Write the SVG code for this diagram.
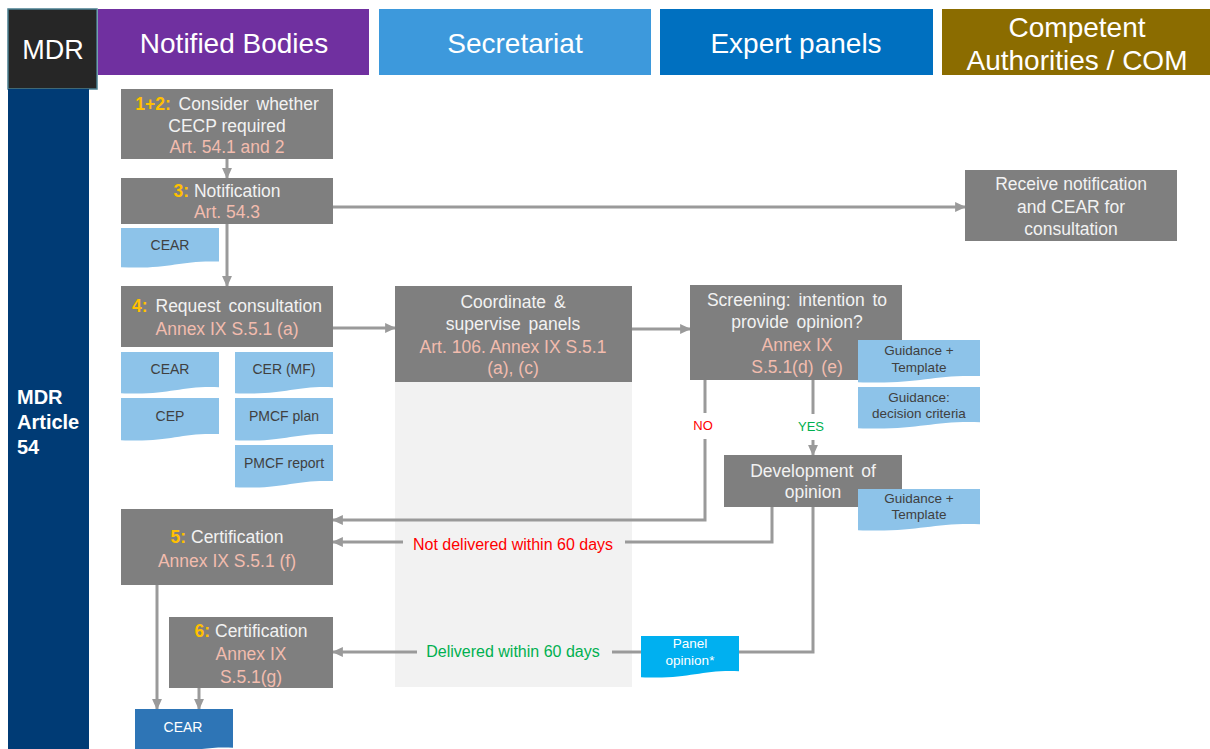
<svg xmlns="http://www.w3.org/2000/svg" xmlns:xlink="http://www.w3.org/1999/xlink" width="1210" height="749" viewBox="0 0 1210 749">
<style>
text{font-family:"Liberation Sans",Arial,sans-serif;}
.hd{font-size:27px;fill:#ffffff;text-anchor:middle;}
.nd{fill:#7f7f7f;}
.nt{font-size:17.5px;fill:#f2f2f2;text-anchor:middle;}
.o{fill:#ffc000;font-weight:bold;}
.p{fill:#f2bcae;}
.ws{word-spacing:3px;}
.dt{font-size:14px;fill:#404040;text-anchor:middle;}
.ln{fill:none;stroke:#9a9a9a;stroke-width:3;}
.ar{marker-end:url(#ah);}
.lbl{font-size:16px;text-anchor:middle;}
</style>
<defs>
<marker id="ah" markerUnits="userSpaceOnUse" markerWidth="11" markerHeight="11" viewBox="0 0 10 10" refX="9" refY="5" orient="auto">
<path d="M0,0.5 L10,5 L0,9.5 Z" fill="#9a9a9a"/>
</marker>
<symbol id="doc" viewBox="0 0 100 100" preserveAspectRatio="none">
<path d="M0,0 H100 V84 C60,80 50,104 0,98 Z"/>
</symbol>
</defs>

<!-- headers -->
<g id="hdr-mdr"><rect x="8" y="9" width="89" height="80" fill="#262626" stroke="#4a7f90" stroke-width="1.5"/><text class="hd" x="53" y="59">MDR</text></g>
<g id="hdr-nb"><rect x="98" y="9" width="271" height="66" fill="#7030a0"/><text class="hd" x="234" y="53" style="font-size:28px">Notified Bodies</text></g>
<g id="hdr-sec"><rect x="379" y="9" width="272" height="66" fill="#3d99dc"/><text class="hd" x="515" y="53" style="font-size:28px">Secretariat</text></g>
<g id="hdr-exp"><rect x="660" y="9" width="273" height="66" fill="#0070c0"/><text class="hd" x="796" y="53" style="font-size:28px">Expert panels</text></g>
<g id="hdr-ca"><rect x="942" y="9" width="268" height="66" fill="#8b6c00"/><text class="hd" x="1077" y="37" style="font-size:28px">Competent</text><text class="hd" x="1077" y="70" style="font-size:28px">Authorities / COM</text></g>

<g id="side"><rect x="8" y="89" width="81" height="660" fill="#003b75"/>
<text x="17" y="404" style="font-size:20px;font-weight:bold;fill:#fff">MDR</text>
<text x="17" y="429" style="font-size:20px;font-weight:bold;fill:#fff">Article</text>
<text x="17" y="454" style="font-size:20px;font-weight:bold;fill:#fff">54</text></g>

<rect id="sec-panel" x="395" y="382" width="237" height="305" fill="#f2f2f2"/>

<!-- connectors -->
<g id="connectors">
<path class="ln ar" d="M227,159 V178"/>
<path class="ln ar" d="M227,224 V286"/>
<path class="ln ar" d="M333,207 H965"/>
<path class="ln ar" d="M333,328 H395"/>
<path class="ln ar" d="M632,329 H690"/>
<path class="ln ar" d="M705,380 V520 H333"/>
<path class="ln ar" d="M813,380 V455"/>
<path class="ln" d="M772,507 V542 H625"/>
<path class="ln ar" d="M403,542 H333"/>
<path class="ln" d="M813,507 V652 H739"/>
<path class="ln" d="M641,652 H612"/>
<path class="ln ar" d="M417,652 H333"/>
<path class="ln ar" d="M157,585 V709"/>
<path class="ln ar" d="M199,688 V709"/>
<g id="lbl-no"><rect x="685" y="413" width="36" height="26" fill="#ffffff"/><text x="703" y="430" style="font-size:13px;fill:#ff0000;text-anchor:middle">NO</text></g>
<g id="lbl-yes"><rect x="790" y="414" width="44" height="26" fill="#ffffff"/><text x="811" y="431" style="font-size:13px;fill:#00b050;text-anchor:middle">YES</text></g>
<text class="lbl" x="513" y="550" fill="#ff0000">Not delivered within 60 days</text>
<text class="lbl" x="513" y="657" fill="#00b050">Delivered within 60 days</text>
</g>

<!-- nodes -->
<g id="n12"><rect class="nd" x="121" y="89" width="212" height="70"/>
<text class="nt ws" x="227" y="110"><tspan class="o">1+2:</tspan> Consider whether</text>
<text class="nt" x="227" y="132">CECP required</text>
<text class="nt p" x="227" y="153">Art. 54.1 and 2</text></g>

<g id="n3"><rect class="nd" x="121" y="178" width="212" height="46"/>
<text class="nt" x="227" y="197"><tspan class="o">3:</tspan> Notification</text>
<text class="nt p" x="227" y="218">Art. 54.3</text></g>

<g id="d-cear1"><use href="#doc" xlink:href="#doc" x="121" y="228" width="98" height="40" fill="#8dc3e9"/><text class="dt" x="170" y="250">CEAR</text></g>

<g id="n-receive"><rect class="nd" x="965" y="170" width="212" height="71"/>
<text class="nt" x="1071" y="190">Receive notification</text>
<text class="nt" x="1071" y="213">and CEAR for</text>
<text class="nt" x="1071" y="235">consultation</text></g>

<g id="n4"><rect class="nd" x="121" y="286" width="212" height="61"/>
<text class="nt ws" x="227" y="312"><tspan class="o">4:</tspan> Request consultation</text>
<text class="nt p" x="227" y="335">Annex IX S.5.1 (a)</text></g>

<g id="d-cear2"><use href="#doc" xlink:href="#doc" x="121" y="352" width="98" height="42" fill="#8dc3e9"/><text class="dt" x="170" y="374">CEAR</text></g>
<g id="d-cer"><use href="#doc" xlink:href="#doc" x="235" y="352" width="98" height="42" fill="#8dc3e9"/><text class="dt" x="284" y="374">CER (MF)</text></g>
<g id="d-cep"><use href="#doc" xlink:href="#doc" x="121" y="398" width="98" height="43" fill="#8dc3e9"/><text class="dt" x="170" y="421">CEP</text></g>
<g id="d-pmcfp"><use href="#doc" xlink:href="#doc" x="235" y="398" width="98" height="43" fill="#8dc3e9"/><text class="dt" x="284" y="421">PMCF plan</text></g>
<g id="d-pmcfr"><use href="#doc" xlink:href="#doc" x="235" y="445" width="98" height="43" fill="#8dc3e9"/><text class="dt" x="284" y="468">PMCF report</text></g>

<g id="n-coord"><rect class="nd" x="395" y="286" width="237" height="96"/>
<text class="nt ws" x="513" y="308">Coordinate &amp;</text>
<text class="nt ws" x="513" y="330">supervise panels</text>
<text class="nt p" x="513" y="353">Art. 106. Annex IX S.5.1</text>
<text class="nt p" x="513" y="374">(a), (c)</text></g>

<g id="n-screen"><rect class="nd" x="690" y="285" width="212" height="95"/>
<text class="nt ws" x="797" y="306">Screening: intention to</text>
<text class="nt ws" x="797" y="328">provide opinion?</text>
<text class="nt p" x="797" y="351">Annex IX</text>
<text class="nt p ws" x="797" y="373">S.5.1(d) (e)</text></g>

<g id="d-guid1"><use href="#doc" xlink:href="#doc" x="858" y="340" width="122" height="43" fill="#8dc3e9"/>
<text class="dt" x="919" y="355" style="font-size:13.5px">Guidance +</text><text class="dt" x="919" y="372" style="font-size:13.5px">Template</text></g>
<g id="d-crit"><use href="#doc" xlink:href="#doc" x="858" y="387" width="122" height="42" fill="#8dc3e9"/>
<text class="dt" x="919" y="402" style="font-size:13.5px">Guidance:</text><text class="dt" x="919" y="418" style="font-size:13.5px">decision criteria</text></g>

<g id="n-dev"><rect class="nd" x="724" y="455" width="178" height="52"/>
<text class="nt ws" x="813" y="477">Development of</text>
<text class="nt" x="813" y="498">opinion</text></g>

<g id="d-guid2"><use href="#doc" xlink:href="#doc" x="858" y="489" width="122" height="42" fill="#8dc3e9"/>
<text class="dt" x="919" y="503" style="font-size:13.5px">Guidance +</text><text class="dt" x="919" y="519" style="font-size:13.5px">Template</text></g>

<g id="n5"><rect class="nd" x="121" y="509" width="212" height="76"/>
<text class="nt" x="227" y="543"><tspan class="o">5:</tspan> Certification</text>
<text class="nt p" x="227" y="567">Annex IX S.5.1 (f)</text></g>

<g id="n6"><rect class="nd" x="169" y="617" width="164" height="71"/>
<text class="nt" x="251" y="637"><tspan class="o">6:</tspan> Certification</text>
<text class="nt p" x="251" y="660">Annex IX</text>
<text class="nt p" x="251" y="683">S.5.1(g)</text></g>

<g id="d-panel"><use href="#doc" xlink:href="#doc" x="641" y="636" width="98" height="42" fill="#00b0f0"/>
<text x="690" y="648" style="font-size:13.5px;fill:#ffffff;text-anchor:middle">Panel</text><text x="690" y="665" style="font-size:13.5px;fill:#ffffff;text-anchor:middle">opinion*</text></g>

<g id="d-cear3"><use href="#doc" xlink:href="#doc" x="135" y="709" width="98" height="46" fill="#2e75b6"/><text x="183" y="732" style="font-size:14px;fill:#ffffff;text-anchor:middle">CEAR</text></g>
</svg>
